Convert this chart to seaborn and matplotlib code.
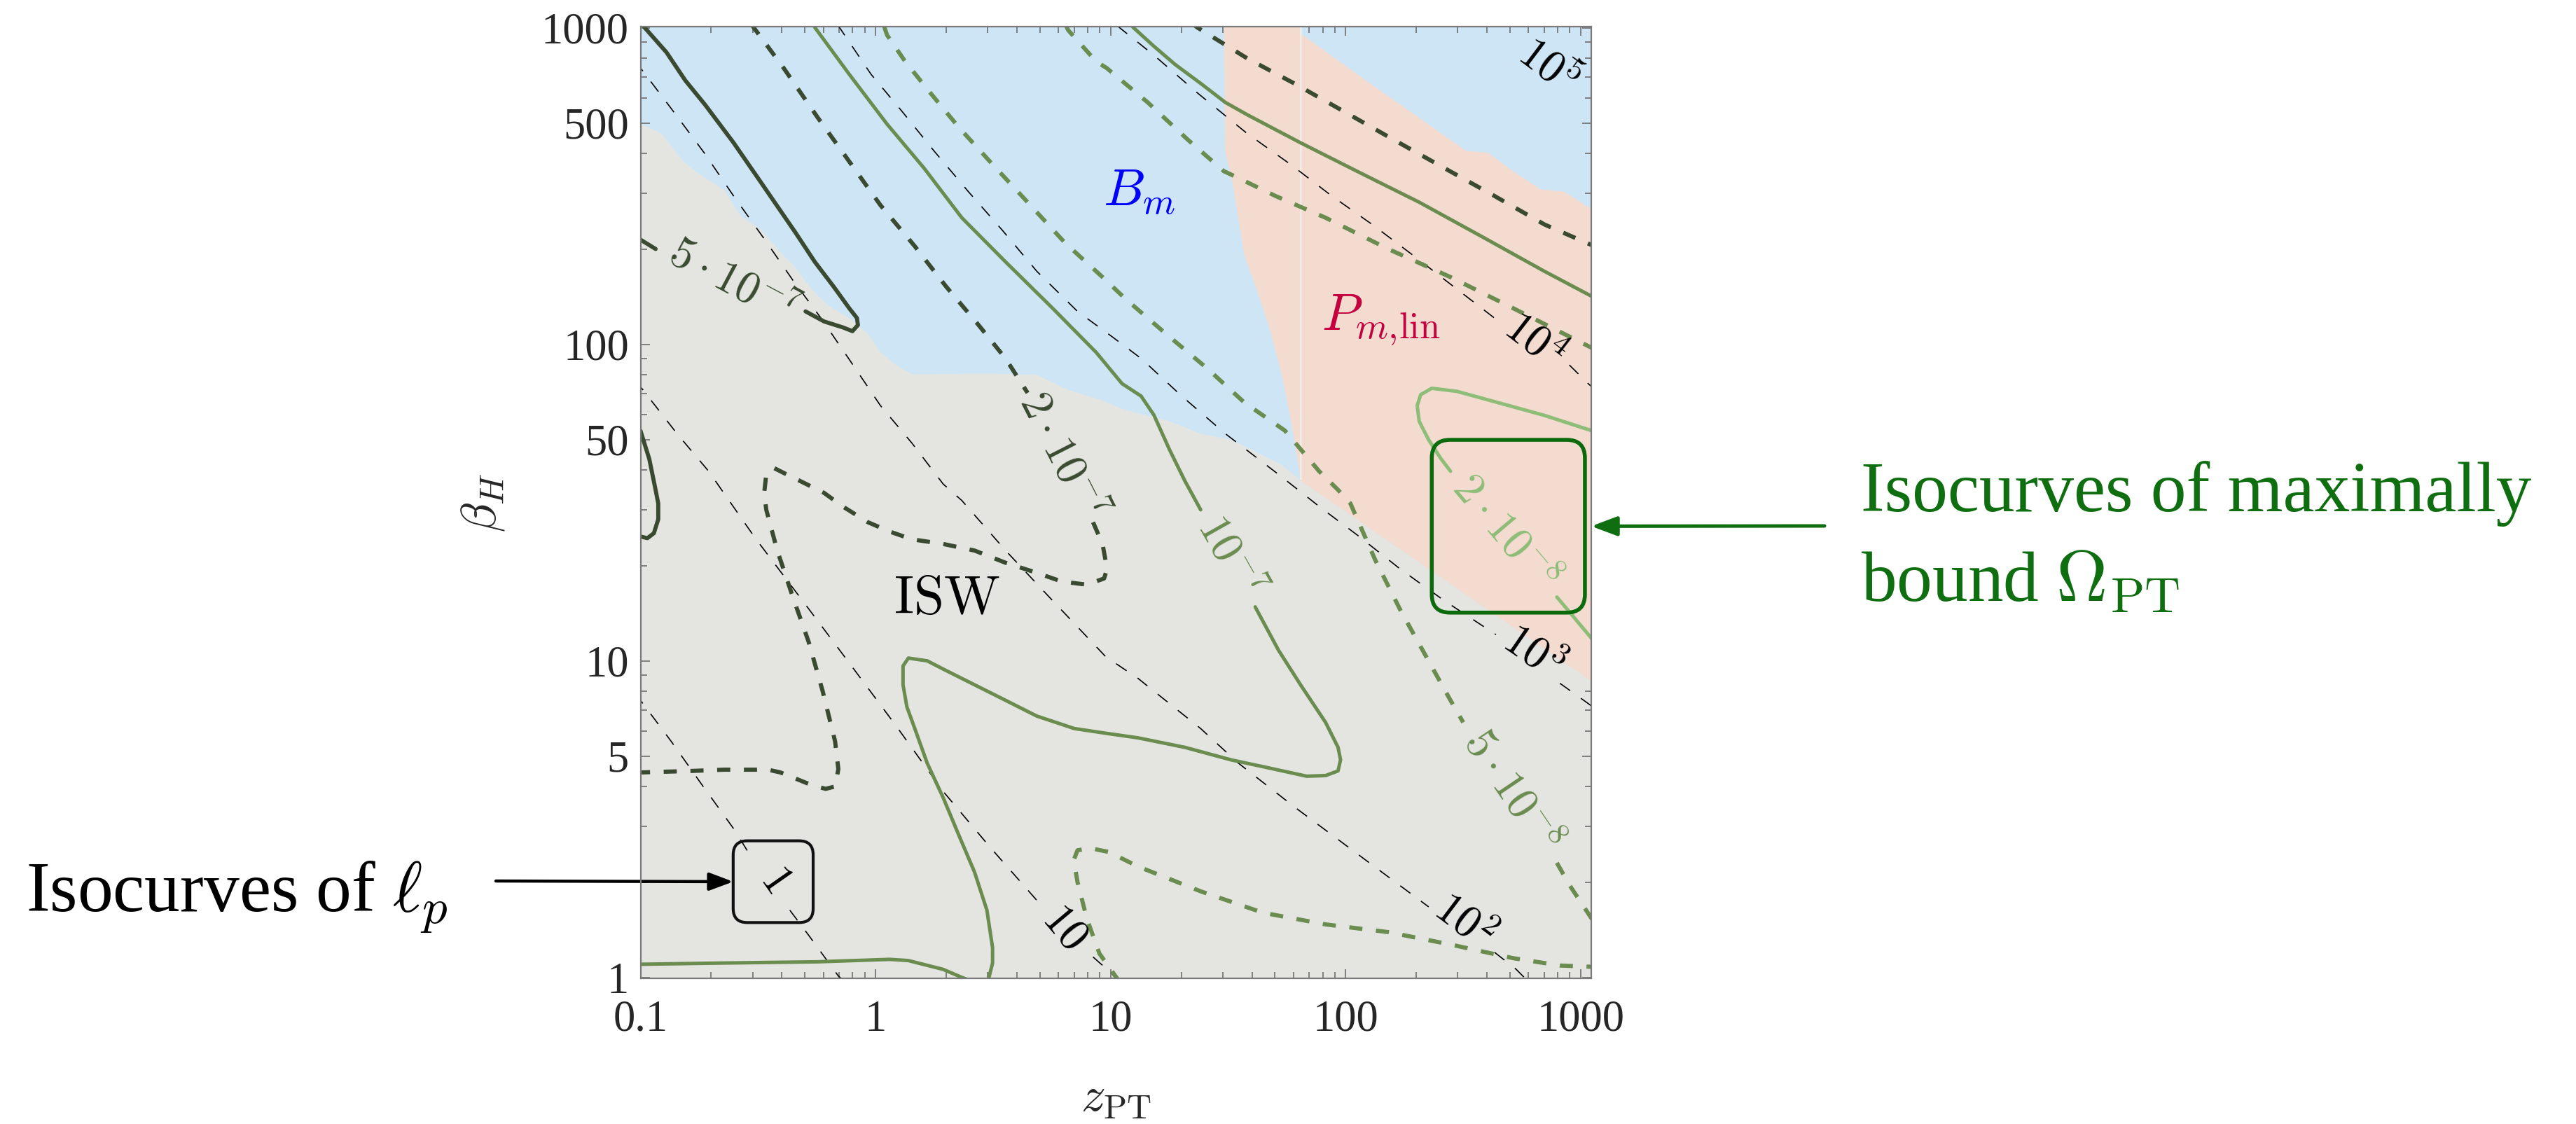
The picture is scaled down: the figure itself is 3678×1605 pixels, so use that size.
import matplotlib
matplotlib.use("Agg")
import matplotlib.pyplot as plt
import seaborn as sns
from matplotlib.patches import FancyBboxPatch
from matplotlib.transforms import IdentityTransform
from matplotlib.ticker import FixedLocator, FixedFormatter, NullFormatter

# ---------------------------------------------------------------- ticks
x_ticks = [0.1, 1, 10, 100, 1000]
x_tick_labels = ["0.1", "1", "10", "100", "1000"]
y_ticks = [1, 5, 10, 50, 100, 500, 1000]
y_tick_labels = ["1", "5", "10", "50", "100", "500", "1000"]
x_minor = [m * d for d in (0.1, 1, 10, 100) for m in range(2, 10)]
y_minor = [m * d for d in (1, 10, 100) for m in (2, 3, 4, 6, 7, 8, 9)]

# ---------------------------------------------------------------- regions (z_PT, beta_H)
bm_z = [0.08, 0.100, 0.123, 0.152, 0.178, 0.227, 0.265, 0.328, 0.394, 0.459, 0.535,
        0.624, 0.773, 0.929, 1.05, 1.22, 1.43, 3.07, 4.86, 6.61, 8.98, 11.2, 13.1,
        17.8, 24.2, 32.8, 44.6, 53.6, 64.4, 1200, 1200, 0.08]
bm_beta = [496, 496, 463, 378, 345, 307, 256, 229, 195, 174, 149,
           133, 121, 108, 94.2, 86.0, 80.4, 80.8, 80.0, 71.7, 67.0, 62.5, 60.5,
           57.1, 52.2, 49.9, 44.5, 41.6, 37.1, 8.3, 1100, 1100]

pm_z = [30.4, 30.8, 32.8, 37.1, 41.9, 47.4, 53.6, 58.7, 62.4, 64.4, 1200, 1200,
        1112, 845, 681, 517, 404, 326, 206, 112, 64.4, 64.4]
pm_beta = [1100, 403, 336, 191, 149, 113, 80.3, 57.1, 43.5, 37.1, 8.3, 262,
           268, 304, 308, 352, 403, 408, 519, 713, 960, 1100]

seam_z = [64.4, 64.4]
seam_beta = [37.6, 1100]

# ---------------------------------------------------------------- ell_p isocurves
lp1_a_z = [0.095, 0.100, 0.135, 0.183, 0.249, 0.290]
lp1_a_b = [7.9, 7.50, 5.57, 4.05, 2.95, 2.46]
lp1_b_z = [0.432, 0.519, 0.695, 0.74]
lp1_b_b = [1.63, 1.36, 1.01, 0.97]

lp10_a_z = [0.095, 0.100, 0.143, 0.195, 0.308, 0.489, 0.773, 1.22, 1.94, 3.07, 4.93]
lp10_a_b = [77.0, 73.4, 52.2, 39.7, 24.4, 15.5, 9.85, 6.25, 3.87, 2.58, 1.73]
lp10_b_z = [8.43, 10.1, 10.8]
lp10_b_b = [1.16, 1.03, 0.97]

lp100_a_z = [0.095, 0.100, 0.135, 0.186, 0.249, 0.338, 0.446, 0.586, 0.785, 1.05, 1.43,
             1.94, 2.33, 3.58, 5.67, 9.55, 13.1, 24.2, 34.9, 60.5, 112, 226]
lp100_a_b = [785, 746, 556, 404, 294, 214, 159, 121, 88.1, 64.0, 48.7,
             36.2, 32.1, 22.3, 15.5, 10.3, 8.80, 6.11, 4.76, 3.46, 2.46, 1.67]
lp100_b_z = [431, 533, 600]
lp100_b_b = [1.20, 1.06, 0.97]

lp1e3_a_z = [0.690, 0.705, 0.957, 1.30, 1.77, 2.48, 3.47, 4.86, 7.24, 10.1, 13.5, 20.1,
             30.8, 51.9, 79.7, 112, 171, 263, 437]
lp1e3_a_b = [1021, 998, 713, 543, 409, 304, 229, 170, 127, 106, 90.2, 68.6,
             52.2, 38.8, 30.2, 25.0, 19.5, 15.5, 12.1]
lp1e3_b_z = [818, 1079, 1200]
lp1e3_b_b = [8.49, 7.33, 6.9]

lp1e4_a_z = [10.7, 10.9, 15.3, 23.4, 38.2, 58.7, 87.5, 130, 194, 289, 437]
lp1e4_a_b = [1014, 1002, 819, 623, 463, 369, 294, 239, 191, 152, 120]
lp1e4_b_z = [897, 1079, 1200]
lp1e4_b_b = [86.0, 75.1, 70.0]

lp1e5_z = [925, 1112, 1200]
lp1e5_b = [809, 729, 700]

lp_labels = ["$1$", "$10$", "$10^2$", "$10^3$", "$10^4$", "$10^5$"]
lp_label_z = [0.371, 6.3, 317, 621, 631, 724]
lp_label_b = [2.03, 1.42, 1.48, 10.5, 101, 746]
lp_label_rot = [-55, -50, -37, -34.5, -37.6, -37]

# ---------------------------------------------------------------- Omega_PT isocurves
# 5e-7 (solid, dark)
om5e7_a_z = [0.102, 0.104, 0.129, 0.155, 0.189, 0.249, 0.328, 0.459, 0.552, 0.664, 0.773,
             0.834, 0.842, 0.798, 0.728, 0.605, 0.504]
om5e7_a_b = [1030, 1002, 836, 682, 569, 433, 322, 224, 182, 152, 130,
             121, 115, 110, 113, 118, 127]
om5e7_b_z = [0.116, 0.100, 0.095]
om5e7_b_b = [200, 214, 218]
om5e7_c_z = [0.095, 0.100, 0.109, 0.116, 0.119, 0.119, 0.114, 0.107, 0.100, 0.095]
om5e7_c_b = [55.0, 53.3, 43.4, 34.6, 31.4, 28.0, 25.3, 24.4, 24.7, 24.8]

# 2e-7 (dashed, dark)
om2e7_a_z = [0.295, 0.303, 0.406, 0.569, 0.773, 1.05, 1.47, 2.00, 2.72, 3.58, 4.44]
om2e7_a_b = [1030, 1002, 747, 519, 378, 275, 204, 152, 116, 90.1, 70.2]
om2e7_b_z = [8.43, 9.25, 9.68, 9.39, 7.94, 6.21, 4.72, 3.58, 2.64, 1.94, 1.43, 1.15,
             0.929, 0.727, 0.605, 0.503, 0.419, 0.371, 0.343, 0.336, 0.343, 0.382,
             0.445, 0.519, 0.596, 0.673, 0.695, 0.673, 0.614, 0.535, 0.394, 0.349,
             0.227, 0.167, 0.100, 0.095]
om2e7_b_b = [27.4, 23.4, 19.5, 18.2, 17.4, 17.8, 19.1, 20.4, 22.3, 23.4, 24.2, 25.6,
             27.4, 30.7, 33.9, 36.3, 38.8, 40.6, 38.8, 33.9, 30.0, 22.3,
             15.9, 11.5, 8.02, 5.57, 4.55, 4.01, 3.94, 4.05, 4.44, 4.53,
             4.53, 4.49, 4.44, 4.44]
om2e7_c_z = [22.0, 23.4, 38.2, 60.5, 98.8, 161, 264, 431, 703, 1112, 1200]
om2e7_c_b = [1040, 1002, 800, 667, 543, 442, 360, 294, 239, 206, 201]

# 1e-7 (solid, medium)
om1e7_a_z = [0.545, 0.552, 0.773, 1.12, 1.61, 2.33, 3.58, 5.67, 8.70, 9.63, 11.2, 13.5,
             15.3, 17.8, 20.7, 24.2]
om1e7_a_b = [1030, 1002, 713, 496, 360, 251, 182, 130, 94.2, 86.0, 75.1, 68.6,
             59.8, 46.6, 37.1, 30.0]
om1e7_b_z = [41.3, 51.9, 64.4, 82.3, 93.0, 95.3, 93.0, 82.3, 68.4, 44.6, 32.8, 20.7,
             13.1, 9.62, 7.02, 4.86, 3.58, 2.64, 1.94, 1.66, 1.38, 1.31, 1.31, 1.36,
             1.47, 1.66, 1.94, 2.26, 2.64, 2.98, 3.15, 3.15, 3.03, 3.0]
om1e7_b_b = [14.8, 10.8, 8.40, 6.39, 5.33, 4.87, 4.49, 4.34, 4.32, 4.63, 4.86, 5.33,
             5.71, 5.90, 6.11, 6.69, 7.50, 8.40, 9.42, 10.0, 10.2, 9.63, 8.40, 7.16,
             6.11, 4.75, 3.70, 2.82, 2.15, 1.63, 1.24, 1.11, 0.99, 0.97]
om1e7_c_z = [0.095, 0.100, 0.227, 0.569, 1.15, 1.38, 1.94, 2.33, 2.5]
om1e7_c_b = [1.10, 1.10, 1.11, 1.12, 1.14, 1.13, 1.06, 1.00, 0.98]
om1e7_d_z = [12.0, 12.5, 15.3, 18.9, 24.2, 30.8, 38.2, 64.4, 112, 206, 380, 703, 1112, 1200]
om1e7_d_b = [1040, 1002, 874, 764, 667, 581, 531, 433, 352, 281, 219, 170, 142, 137]

# 5e-8 (dashed, medium)
om5e8_a_z = [1.09, 1.12, 1.34, 1.71, 2.26, 3.16, 4.44, 6.41, 9.25, 11.6, 17.2, 25.7,
             37.1, 55.2, 77.3, 92.9, 105, 134, 171, 213, 280, 317]
om5e8_a_b = [1007, 948, 781, 623, 485, 369, 281, 209, 163, 139, 108, 84.1,
             65.5, 53.4, 39.7, 34.7, 31.4, 20.8, 14.5, 10.8, 7.50, 6.39]
om5e8_b_z = [794, 897, 1112, 1200]
om5e8_b_b = [2.30, 1.96, 1.54, 1.45]
om5e8_c_z = [6.45, 6.61, 8.71, 9.63, 14.4, 21.4, 30.4, 32.8, 50.4, 82.3, 152, 280, 517, 1112, 1200]
om5e8_c_b = [1020, 982, 781, 746, 581, 442, 352, 343, 294, 251, 200, 163, 130, 97.6, 94]
om5e8_d_z = [11.0, 10.8, 8.97, 7.94, 7.24, 6.98, 7.24, 8.18, 9.84, 13.1, 24.2, 44.6,
             82.3, 152, 280, 517, 819, 1112, 1200]
om5e8_d_b = [0.97, 0.98, 1.19, 1.53, 2.00, 2.35, 2.52, 2.56, 2.49, 2.24, 1.87, 1.60,
             1.47, 1.39, 1.27, 1.15, 1.09, 1.08, 1.08]

# 2e-8 (solid, light)
om2e8_a_z = [1200, 1112, 703, 443, 298, 233, 209, 202, 206, 226, 255, 280]
om2e8_a_b = [52.0, 53.4, 59.6, 65.5, 71.0, 72.6, 69.3, 64.0, 57.1, 49.9, 43.5, 39.7]
om2e8_b_z = [794, 925, 1112, 1200]
om2e8_b_b = [15.9, 13.9, 11.8, 11.0]

om_labels = [r"$5\cdot10^{-7}$", r"$2\cdot10^{-7}$", r"$10^{-7}$", r"$5\cdot10^{-8}$", r"$2\cdot10^{-8}$"]
om_label_z = [0.245, 6.12, 31.6, 501, 472]
om_label_b = [155, 44.0, 21.1, 3.83, 25.1]
om_label_rot = [-28, -63, -60.5, -56, -49.8]

# highlight boxes around the "1" and "2e-8" labels
box_lp_z = [0.248, 0.543]
box_lp_b = [1.49, 2.70]
box_om_z = [233, 1045]
box_om_b = [14.2, 49.9]

# ---------------------------------------------------------------- style
GREY_BG = "#e4e5e1"
BLUE = "#cee5f6"
SALMON = "#f4dbd0"
DARK = "#394a30"
MED = "#6a8c4f"
LIGHT = "#8dbd77"
ANN_GREEN = "#0f6e0f"
BOX_GREEN = "#0b6a0b"

sns.set_style("ticks")
plt.rcParams["font.family"] = ["Liberation Serif", "DejaVu Serif"]
plt.rcParams["mathtext.fontset"] = "cm"
plt.rcParams["lines.scale_dashes"] = False
plt.rcParams["axes.unicode_minus"] = True

W, H = 3678, 1605
fig = plt.figure(figsize=(W / 100, H / 100), dpi=100)
fig.patch.set_facecolor("white")
ax = fig.add_axes([914.5 / W, 1 - 1397 / H, (2272 - 914.5) / W, (1397 - 38) / H])
ax.set_xscale("log")
ax.set_yscale("log")
ax.set_xlim(0.1, 1112)
ax.set_ylim(0.993, 1008)
ax.set_facecolor(GREY_BG)

# regions
ax.fill(bm_z, bm_beta, color=BLUE, lw=0, zorder=0.5)
ax.fill(pm_z, pm_beta, color=SALMON, lw=0, zorder=0.6)


def curve(zs, bs, color, lw, dashes=None, z=2):
    ls = "-" if dashes is None else (0, dashes)
    sns.lineplot(x=zs, y=bs, sort=False, estimator=None, color=color, linewidth=lw,
                 linestyle=ls, ax=ax, legend=False, zorder=z)


curve(seam_z, seam_beta, "white", 1.0, z=0.8)

THIN = (13, 13.5)
THICK = (13.5, 14)
for zs, bs in [(lp1_a_z, lp1_a_b), (lp1_b_z, lp1_b_b), (lp10_a_z, lp10_a_b), (lp10_b_z, lp10_b_b),
               (lp100_a_z, lp100_a_b), (lp100_b_z, lp100_b_b), (lp1e3_a_z, lp1e3_a_b),
               (lp1e3_b_z, lp1e3_b_b), (lp1e4_a_z, lp1e4_a_b), (lp1e4_b_z, lp1e4_b_b),
               (lp1e5_z, lp1e5_b)]:
    curve(zs, bs, "black", 1.2, THIN, z=2)

for zs, bs in [(om5e7_a_z, om5e7_a_b), (om5e7_b_z, om5e7_b_b), (om5e7_c_z, om5e7_c_b)]:
    curve(zs, bs, DARK, 4.2, z=3)
for zs, bs in [(om2e7_a_z, om2e7_a_b), (om2e7_b_z, om2e7_b_b), (om2e7_c_z, om2e7_c_b)]:
    curve(zs, bs, DARK, 4.3, THICK, z=3)
for zs, bs in [(om1e7_a_z, om1e7_a_b), (om1e7_b_z, om1e7_b_b), (om1e7_c_z, om1e7_c_b),
               (om1e7_d_z, om1e7_d_b)]:
    curve(zs, bs, MED, 3.6, z=3)
for zs, bs in [(om5e8_a_z, om5e8_a_b), (om5e8_b_z, om5e8_b_b), (om5e8_c_z, om5e8_c_b),
               (om5e8_d_z, om5e8_d_b)]:
    curve(zs, bs, MED, 4.3, THICK, z=3)
for zs, bs in [(om2e8_a_z, om2e8_a_b), (om2e8_b_z, om2e8_b_b)]:
    curve(zs, bs, LIGHT, 3.6, z=3)

# contour labels
for s, zz, bb, rot in zip(lp_labels, lp_label_z, lp_label_b, lp_label_rot):
    ax.text(zz, bb, s, rotation=rot, rotation_mode="anchor", ha="center", va="center",
            fontsize=46, color="black", zorder=5)
om_colors = [DARK, DARK, MED, MED, LIGHT]
for s, zz, bb, rot, c in zip(om_labels, om_label_z, om_label_b, om_label_rot, om_colors):
    ax.text(zz, bb, s, rotation=rot, rotation_mode="anchor", ha="center", va="center",
            fontsize=46, color=c, zorder=5)

# region names
ax.text(13.3, 300, r"$B_m$", color="#0000ff", fontsize=54, ha="center", va="center", zorder=5)
ax.text(142, 119, r"$P_{m,\!\mathrm{lin}}$", color="#c4003f", fontsize=54, ha="center", va="center", zorder=5)
ax.text(2.01, 15.5, r"$\mathrm{ISW}$", color="black", fontsize=56, ha="center", va="center", zorder=5)

# axes cosmetics
ax.xaxis.set_major_locator(FixedLocator(x_ticks))
ax.xaxis.set_major_formatter(FixedFormatter(x_tick_labels))
ax.xaxis.set_minor_locator(FixedLocator(x_minor))
ax.xaxis.set_minor_formatter(NullFormatter())
ax.yaxis.set_major_locator(FixedLocator(y_ticks))
ax.yaxis.set_major_formatter(FixedFormatter(y_tick_labels))
ax.yaxis.set_minor_locator(FixedLocator(y_minor))
ax.yaxis.set_minor_formatter(NullFormatter())
ax.tick_params(which="both", direction="in", top=True, right=True, color="#6e6e6e",
               width=1.2, labelsize=45)
ax.tick_params(which="major", length=9.5)
ax.tick_params(which="minor", length=6.5)
ax.tick_params(axis="x", which="major", pad=22)
ax.tick_params(axis="y", which="major", pad=12)
for sp in ax.spines.values():
    sp.set_color("#7a7a7a")
    sp.set_linewidth(1.6)
    sp.set_zorder(6)

ax.set_xlabel(r"$z_{\mathrm{PT}}$", fontsize=50, va="center")
ax.xaxis.set_label_coords(0.5, -0.127)
ax.set_ylabel(r"$\beta_H$", fontsize=50, va="center")
ax.yaxis.set_label_coords(-0.1654, 0.5)

# highlight boxes (placed from the data extents of the labelled region)
def rounded_box(zr, br, color, lw, r):
    x0, y0 = ax.transData.transform((zr[0], br[0]))
    x1, y1 = ax.transData.transform((zr[1], br[1]))
    p = FancyBboxPatch((x0, y0), x1 - x0, y1 - y0,
                       boxstyle=f"round,pad=0,rounding_size={r}",
                       transform=IdentityTransform(), fill=False, ec=color, lw=lw,
                       zorder=10, clip_on=False)
    fig.add_artist(p)


rounded_box(box_lp_z, box_lp_b, "#111111", 3.0, 20)
rounded_box(box_om_z, box_om_b, BOX_GREEN, 4.0, 26)

# annotations
fig.text(37 / W, 1 - 1302 / H, r"Isocurves of $\ell_p$", fontsize=73, color="black",
         ha="left", va="baseline")
ax.annotate("", xy=(box_lp_z[0], (box_lp_b[0] * box_lp_b[1]) ** 0.5), xycoords="data",
            xytext=(708, H - 1258), textcoords="figure pixels",
            arrowprops=dict(arrowstyle="-|>,head_length=0.8,head_width=0.3",
                            mutation_scale=26, lw=3.2, color="black",
                            shrinkA=0, shrinkB=0), annotation_clip=False)

fig.text(2657 / W, 1 - 730 / H, "Isocurves of maximally", fontsize=73, color=ANN_GREEN,
         ha="left", va="baseline")
fig.text(2657 / W, 1 - 857 / H, r"bound $\Omega_{\mathrm{PT}}$", fontsize=73, color=ANN_GREEN,
         ha="left", va="baseline")
ax.annotate("", xy=(1.0, (box_om_b[0] * box_om_b[1]) ** 0.5), xycoords=("axes fraction", "data"),
            xytext=(2605, H - 751), textcoords="figure pixels",
            arrowprops=dict(arrowstyle="-|>,head_length=0.8,head_width=0.3",
                            mutation_scale=28, lw=3.6, color=ANN_GREEN,
                            shrinkA=0, shrinkB=0), annotation_clip=False)

fig.savefig("out.png", dpi=100, facecolor="white")
